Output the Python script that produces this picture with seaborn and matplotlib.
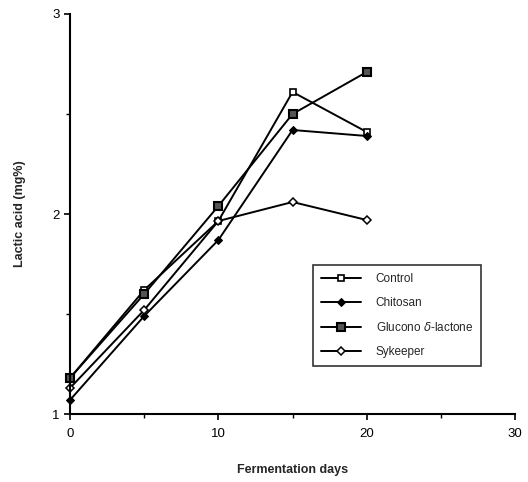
import matplotlib
matplotlib.use("Agg")
import matplotlib.pyplot as plt
import seaborn as sns
import pandas as pd
from matplotlib.ticker import MultipleLocator

days = [0, 5, 10, 15, 20]
control = [1.18, 1.62, 1.965, 2.61, 2.41]
chitosan = [1.07, 1.49, 1.87, 2.42, 2.39]
glucono = [1.18, 1.60, 2.04, 2.50, 2.71]
sykeeper = [1.13, 1.52, 1.965, 2.06, 1.97]
series_names = ["Control", "Chitosan", "Glucono $\\delta$-lactone", "Sykeeper"]
x_ticks = [0, 10, 20, 30]
y_ticks = [1, 2, 3]

sns.set_theme(style="ticks")
plt.rcParams["font.family"] = ["Liberation Sans", "DejaVu Sans"]

frames = []
for name, vals in zip(series_names, [control, chitosan, glucono, sykeeper]):
    frames.append(pd.DataFrame({"day": days, "acid": vals, "series": name}))
df = pd.concat(frames, ignore_index=True)

fig = plt.figure(figsize=(5.28, 4.82), dpi=100)
ax = fig.add_axes([0.1326, 0.141, 0.843, 0.830])

styles = {
    series_names[0]: dict(marker="s", markersize=5, markerfacecolor="white", markeredgecolor="black", markeredgewidth=1.2),
    series_names[1]: dict(marker="D", markersize=4, markerfacecolor="black", markeredgecolor="black"),
    series_names[2]: dict(marker="s", markersize=5.5, markerfacecolor="#555555", markeredgecolor="black", markeredgewidth=1.5),
    series_names[3]: dict(marker="D", markersize=4, markerfacecolor="white", markeredgecolor="black", markeredgewidth=1.1),
}

for name in series_names:
    sub = df[df["series"] == name]
    sns.lineplot(data=sub, x="day", y="acid", ax=ax, color="black", linewidth=1.4,
                 label=name, clip_on=False, **styles[name])

ax.set_xlim(0, 30)
ax.set_ylim(1, 3)
ax.set_xticks(x_ticks)
ax.set_yticks(y_ticks)
ax.xaxis.set_minor_locator(MultipleLocator(5))
ax.yaxis.set_minor_locator(MultipleLocator(0.5))
ax.tick_params(axis="both", which="major", direction="out", length=4, width=1.2, labelsize=9.5, color="black", labelcolor="black")
ax.tick_params(axis="x", which="major", pad=6)
ax.tick_params(axis="both", which="minor", direction="out", length=3, width=1.0, color="black")
for s in ["top", "right"]:
    ax.spines[s].set_visible(False)
for s in ["left", "bottom"]:
    ax.spines[s].set_linewidth(1.5)
    ax.spines[s].set_color("black")

ax.set_xlabel("Fermentation days", fontsize=9, fontweight="bold", labelpad=17)
ax.set_ylabel("Lactic acid (mg%)", fontsize=9, fontweight="bold", labelpad=19)

leg = ax.legend(loc="upper left", bbox_to_anchor=(0.546, 0.372), frameon=True, fancybox=False,
                edgecolor="black", fontsize=8.5, handlelength=3.4, labelspacing=1.0,
                handletextpad=1.2, borderpad=0.7, borderaxespad=0)
leg.get_frame().set_linewidth(1.2)

fig.savefig("out.png", dpi=100)
